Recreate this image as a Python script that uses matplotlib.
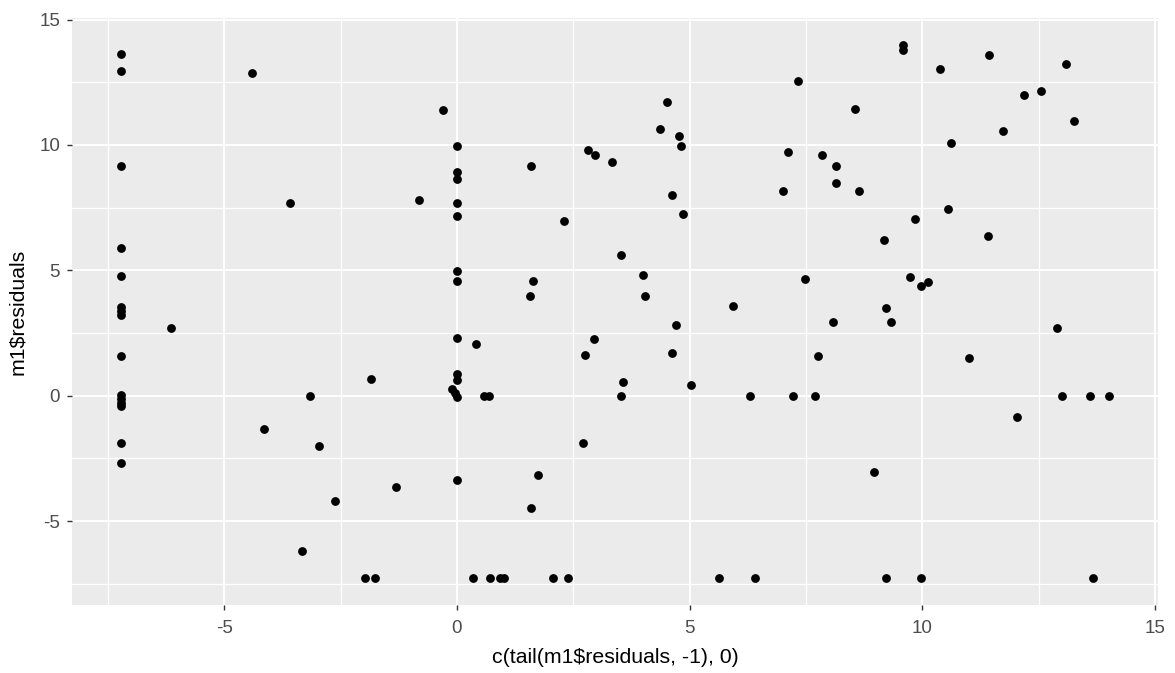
import matplotlib
matplotlib.use("Agg")
import matplotlib.pyplot as plt
import numpy as np
from matplotlib.ticker import MultipleLocator

# data: lagged residual (x) vs residual (y)
x_vals = [-7.21, -7.21, -7.21, -7.21, -7.21, -7.21, -7.21, -7.21, -7.21, -7.21,
          -7.21, -7.21, -7.21, -7.21, -7.21, -6.15, -4.40, -4.15, -3.58, -3.33,
          -3.15, -2.96, -2.62, -1.97, -1.85, -1.77, -1.32, -0.82, -0.29, -0.10,
          -0.05, 0.0, 0.0, 0.0, 0.0, 0.0, 0.0, 0.0, 0.0, 0.0,
          0.0, 0.0, 0.0, 0.34, 0.41, 0.59, 0.68, 0.71, 0.92, 1.00,
          1.56, 1.60, 1.60, 1.63, 1.75, 2.07, 2.30, 2.38, 2.71, 2.75,
          2.82, 2.94, 2.97, 3.34, 3.52, 3.52, 3.56, 4.00, 4.03, 4.37,
          4.52, 4.63, 4.63, 4.71, 4.78, 4.82, 4.85, 5.03, 5.62, 5.93,
          6.30, 6.41, 7.00, 7.11, 7.21, 7.33, 7.48, 7.70, 7.75, 7.85,
          8.08, 8.15, 8.15, 8.56, 8.63, 8.96, 9.18, 9.22, 9.22, 9.33,
          9.59, 9.59, 9.74, 9.85, 9.96, 9.97, 10.12, 10.37, 10.55, 10.62,
          11.00, 11.40, 11.44, 11.74, 12.03, 12.18, 12.55, 12.88, 13.00, 13.08,
          13.26, 13.59, 13.66, 14.00]
y_vals = [13.64, 12.95, 9.17, 5.88, 4.78, 3.52, 3.38, 3.24, 1.57, 0.04,
          -0.12, -0.27, -0.41, -1.87, -2.69, 2.70, 12.89, -1.31, 7.67, -6.19,
          0.00, -2.00, -4.20, -7.28, 0.68, -7.28, -3.65, 7.81, 11.38, 0.28,
          0.10, -0.05, 9.94, 8.91, 8.63, 7.67, 7.18, 4.99, 4.58, 2.32,
          0.87, 0.61, -3.37, -7.28, 2.05, 0.00, 0.00, -7.28, -7.28, -7.28,
          3.96, 9.17, -4.48, 4.58, -3.16, -7.28, 6.98, -7.28, -1.87, 1.63,
          9.79, 2.25, 9.59, 9.32, 5.62, 0.00, 0.54, 4.80, 3.96, 10.63,
          11.73, 8.02, 1.71, 2.81, 10.35, 9.94, 7.26, 0.41, -7.28, 3.56,
          0.00, -7.28, 8.16, 9.73, 0.00, 12.55, 4.65, 0.00, 1.57, 9.59,
          2.94, 9.18, 8.49, 11.45, 8.15, -3.04, 6.23, 3.48, -7.28, 2.94,
          14.00, 13.80, 4.72, 7.05, 4.39, -7.28, 4.52, 13.03, 7.46, 10.07,
          1.50, 6.36, 13.58, 10.55, -0.84, 11.99, 12.14, 2.70, 0.00, 13.24,
          10.97, 0.00, -7.28, 0.00]

x_label = "c(tail(m1$residuals, -1), 0)"
y_label = "m1$residuals"
x_ticks = [-5, 0, 5, 10, 15]
y_ticks = [-5, 0, 5, 10, 15]

plt.rcParams['font.family'] = ['Liberation Sans', 'DejaVu Sans']
plt.rcParams['axes.unicode_minus'] = False

fig = plt.figure(figsize=(11.75, 6.73), dpi=100)
ax = fig.add_axes([72/1175, 68/673, (1158-72)/1175, (605-18)/673])
ax.set_facecolor('#EBEBEB')

ax.scatter(x_vals, y_vals, s=40, color='black', linewidths=0, zorder=3)

# ggplot-like 5% expansion
xr = max(x_vals) - min(x_vals)
yr = max(y_vals) - min(y_vals)
ax.set_xlim(min(x_vals) - 0.05 * xr, max(x_vals) + 0.05 * xr)
ax.set_ylim(min(y_vals) - 0.05 * yr, max(y_vals) + 0.05 * yr)

ax.set_xticks(x_ticks)
ax.set_yticks(y_ticks)
ax.xaxis.set_minor_locator(MultipleLocator(2.5))
ax.yaxis.set_minor_locator(MultipleLocator(2.5))
ax.grid(which='major', color='white', linewidth=1.4, zorder=1)
ax.grid(which='minor', color='white', linewidth=0.9, zorder=1)
ax.set_axisbelow(True)

for s in ax.spines.values():
    s.set_visible(False)

ax.tick_params(which='major', length=3.5, width=1.0, color='#333333',
               labelcolor='#4D4D4D', labelsize=13.5)
ax.tick_params(axis='x', which='major', pad=7)
ax.tick_params(axis='y', which='major', pad=5)
ax.tick_params(which='minor', length=0)

ax.set_xlabel(x_label, fontsize=15.3, color='black', labelpad=8)
ax.set_ylabel(y_label, fontsize=15.3, color='black', labelpad=9)

fig.savefig("out.png", dpi=100, facecolor='white')
